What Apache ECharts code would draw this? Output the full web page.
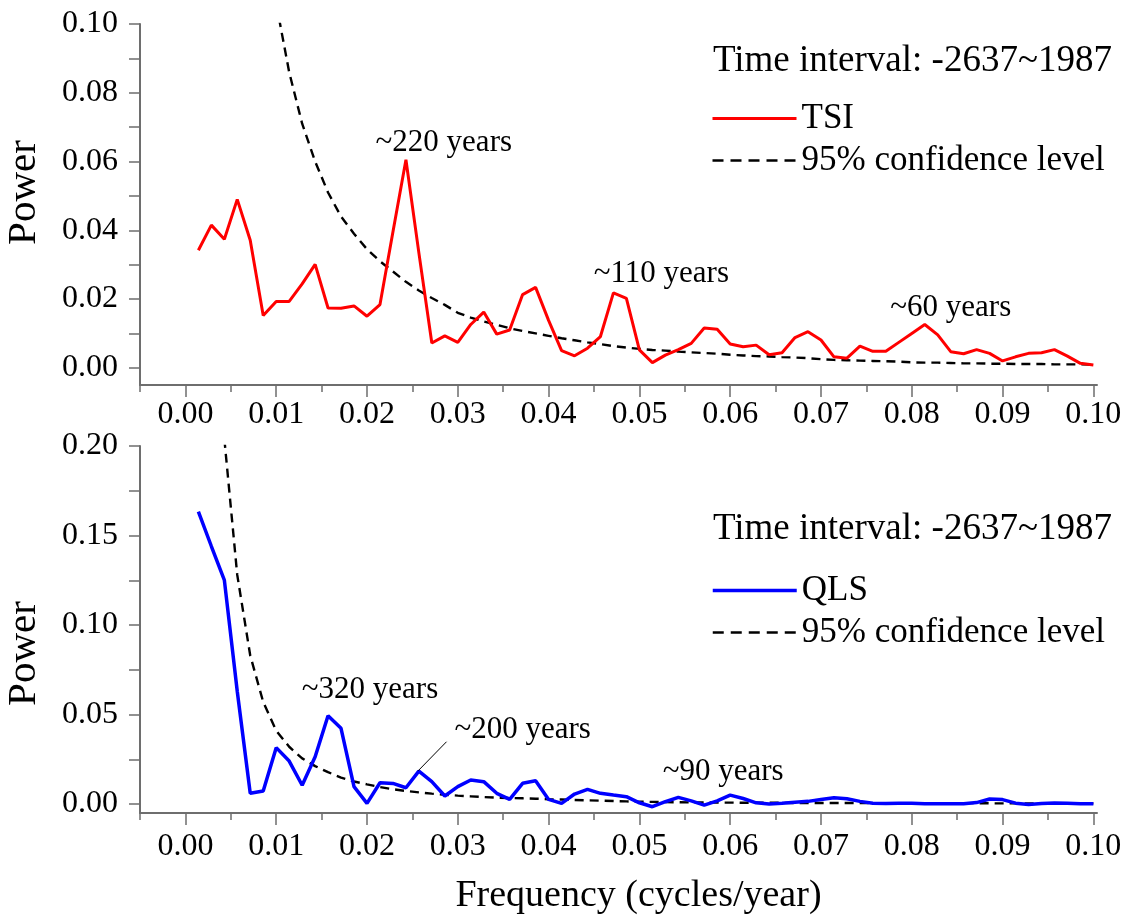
<!DOCTYPE html>
<html>
<head>
<meta charset="utf-8">
<script src="https://cdn.jsdelivr.net/npm/echarts@6/dist/echarts.min.js"></script>
<style>
html,body{margin:0;padding:0;background:#fff;}
#chart{width:1125px;height:922px;}
</style>
</head>
<body>
<div id="chart"></div>
<script>
// ---- data ----
const freq = [0.00143,0.00286,0.00429,0.00571,0.00714,0.00857,0.01000,0.01143,0.01286,0.01429,
0.01571,0.01714,0.01857,0.02000,0.02143,0.02286,0.02429,0.02571,0.02714,0.02857,
0.03000,0.03143,0.03286,0.03429,0.03571,0.03714,0.03857,0.04000,0.04143,0.04286,
0.04429,0.04571,0.04714,0.04857,0.05000,0.05143,0.05286,0.05429,0.05571,0.05714,
0.05857,0.06000,0.06143,0.06286,0.06429,0.06571,0.06714,0.06857,0.07000,0.07143,
0.07286,0.07429,0.07571,0.07714,0.07857,0.08000,0.08143,0.08286,0.08429,0.08571,
0.08714,0.08857,0.09000,0.09143,0.09286,0.09429,0.09571,0.09714,0.09857,0.10000];

const tsiPower = [0.0342,0.0415,0.0374,0.0490,0.0371,0.0152,0.0193,0.0193,0.0244,0.0301,
0.0174,0.0173,0.0180,0.0150,0.0184,0.0396,0.0605,0.0335,0.0072,0.0093,
0.0074,0.0126,0.0162,0.0098,0.0110,0.0213,0.0234,0.0138,0.0050,0.0035,
0.0057,0.0091,0.0218,0.0202,0.0052,0.0015,0.0037,0.0053,0.0071,0.0116,
0.0112,0.0069,0.0061,0.0066,0.0038,0.0044,0.0088,0.0105,0.0081,0.0032,
0.0028,0.0063,0.0048,0.0048,0.0074,0.0100,0.0126,0.0096,0.0047,0.0041,
0.0053,0.0042,0.0020,0.0032,0.0042,0.0044,0.0053,0.0034,0.0013,0.0008];

const tsiConf = [null,null,null,null,null,null,0.106,0.086,0.071,0.060,
0.051,0.044,0.039,0.0345,0.031,0.028,0.0250,0.0225,0.0203,0.0183,
0.0160,0.0146,0.0135,0.0125,0.0115,0.0107,0.0100,0.0093,0.0086,0.0080,
0.0074,0.0069,0.0063,0.0059,0.0055,0.0052,0.0050,0.0047,0.0045,0.0043,
0.0041,0.0038,0.0036,0.0034,0.0033,0.0031,0.0030,0.0028,0.0025,0.0023,
0.0022,0.0021,0.0020,0.0019,0.0018,0.0016,0.0015,0.0015,0.0014,0.0013,
0.0013,0.0012,0.0012,0.0011,0.0011,0.0011,0.0010,0.0010,0.0010,0.0009];

const qlsPower = [0.1633,0.1440,0.1251,0.0630,0.0060,0.0073,0.0315,0.0240,0.0105,0.0264,
0.0493,0.0423,0.0097,0.0004,0.0119,0.0115,0.0091,0.0184,0.0125,0.0045,
0.0097,0.0134,0.0125,0.0060,0.0026,0.0116,0.0130,0.0026,0.0004,0.0056,
0.0082,0.0060,0.0050,0.0041,0.0007,-0.0015,0.0013,0.0037,0.0018,-0.0006,
0.0018,0.0050,0.0031,0.0007,0.0000,0.0004,0.0010,0.0015,0.0025,0.0035,
0.0030,0.0015,0.0005,0.0003,0.0005,0.0005,0.0002,0.0002,0.0002,0.0002,
0.0008,0.0028,0.0025,0.0005,-0.0002,0.0003,0.0006,0.0004,0.0002,0.0002];

const qlsConf = [null,null,0.204,0.128,0.083,0.057,0.041,0.032,0.0255,0.0212,
0.0178,0.0148,0.0126,0.0110,0.0095,0.0083,0.0073,0.0065,0.0058,0.0052,
0.0047,0.0043,0.0039,0.0036,0.0034,0.0032,0.0030,0.0027,0.0025,0.0023,
0.0021,0.0019,0.0017,0.0015,0.0013,0.0012,0.0011,0.0010,0.0009,0.0009,
0.0008,0.0008,0.0007,0.0007,0.0007,0.0007,0.0006,0.0006,0.0006,0.0006,
0.0006,0.0005,0.0005,0.0005,0.0005,0.0005,0.0005,0.0005,0.0005,0.0005,
0.0005,0.0004,0.0004,0.0004,0.0004,0.0004,0.0004,0.0004,0.0004,0.0004];

const xMajorTicks = [0,0.01,0.02,0.03,0.04,0.05,0.06,0.07,0.08,0.09,0.10];
const xMinorTicks = [-0.005,0.005,0.015,0.025,0.035,0.045,0.055,0.065,0.075,0.085,0.095];
const yTopMajorTicks = [0,0.02,0.04,0.06,0.08,0.10];
const yTopMinorTicks = [0.01,0.03,0.05,0.07,0.09];
const yBotMajorTicks = [0,0.05,0.10,0.15,0.20];
const yBotMinorTicks = [0.025,0.075,0.125,0.175];

const topTitle = 'Time interval: -2637~1987';
const botTitle = 'Time interval: -2637~1987';
const xName = 'Frequency (cycles/year)';
const yName = 'Power';
const confName = '95% confidence level';

// annotations: [panel, x, y, text]
const annotations = [
  [0, 0.02846, 0.0653, '~220 years'],
  [0, 0.05242, 0.0274, '~110 years'],
  [0, 0.08429, 0.0175, '~60 years'],
  [1, 0.02033, 0.0637, '~320 years'],
  [1, 0.03714, 0.0413, '~200 years'],
  [1, 0.05923, 0.0179, '~90 years']
];
const leader = [[0.02876, 0.0348], [0.02564, 0.0186]];

// ---- chart ----
const FONT = "'Liberation Serif','Times New Roman',serif";
const AX = '#6e6e6e';
function pairs(vals){ const out=[]; vals.forEach((v,i)=>{ if(v!==null) out.push([freq[i], v]); }); return out; }
const fmt2 = v => Number(v).toFixed(2);

function xAxes(g, withName, margin){
  const main = {
    gridIndex:g, type:'value', min:-0.005, max:0.1004, position:'bottom',
    axisLine:{show:true, onZero:false, lineStyle:{color:AX, width:2}},
    axisTick:{show:true, customValues:xMajorTicks, length:12, lineStyle:{color:AX, width:1.5}},
    axisLabel:{customValues:xMajorTicks, formatter:fmt2, fontSize:32, fontFamily:FONT, color:'#000', margin:margin},
    splitLine:{show:false}
  };
  if(withName){
    main.name = xName; main.nameLocation='middle'; main.nameGap=64;
    main.nameTextStyle = {fontSize:38, fontFamily:FONT, color:'#000', padding:[0,0,0,40]};
  }
  const minor = {
    gridIndex:g, type:'value', min:-0.005, max:0.1004, position:'bottom',
    axisLine:{show:false, onZero:false},
    axisTick:{show:true, customValues:xMinorTicks, length:7, lineStyle:{color:AX, width:1.5}},
    axisLabel:{show:false}, splitLine:{show:false}
  };
  return [main, minor];
}
function yAxes(g, min, max, major, minor, namePad){
  return [{
    gridIndex:g, type:'value', min:min, max:max, position:'left',
    name:yName, nameLocation:'middle', nameGap:95,
    nameTextStyle:{fontSize:41, fontFamily:FONT, color:'#000', padding:namePad},
    axisLine:{show:true, onZero:false, lineStyle:{color:AX, width:2}},
    axisTick:{show:true, customValues:major, length:11, lineStyle:{color:AX, width:1.5}},
    axisLabel:{customValues:major, formatter:fmt2, fontSize:32, fontFamily:FONT, color:'#000', margin:22},
    splitLine:{show:false}
  },{
    gridIndex:g, type:'value', min:min, max:max, position:'left',
    axisLine:{show:false, onZero:false},
    axisTick:{show:true, customValues:minor, length:11, lineStyle:{color:AX, width:1.5}},
    axisLabel:{show:false}, splitLine:{show:false}
  }];
}

const dashStyle = {color:'#000', width:2.4, type:[9,6]};
const legendBase = {orient:'vertical', itemWidth:84, itemHeight:14, itemGap:7,
  itemStyle:{opacity:0}, textStyle:{fontSize:35, fontFamily:FONT, color:'#000'}};
const confLegendItem = {name:confName, lineStyle:{width:2.4, type:[11,7]}};

const option = {
  backgroundColor:'#fff',
  animation:false,
  title:[
    {text:topTitle, left:708, top:38, textStyle:{fontSize:37, fontFamily:FONT, color:'#000', fontWeight:'normal'}},
    {text:botTitle, left:708, top:506, textStyle:{fontSize:37, fontFamily:FONT, color:'#000', fontWeight:'normal'}}
  ],
  legend:[
    Object.assign({left:706, top:96, data:[{name:'TSI', lineStyle:{width:3}}, confLegendItem]}, legendBase),
    Object.assign({left:706, top:568, data:[{name:'QLS', lineStyle:{width:3.5}}, confLegendItem]}, legendBase)
  ],
  grid:[
    {left:140, top:24, width:957, height:361, containLabel:false, outerBoundsMode:'none'},
    {left:140, top:446, width:957, height:367, containLabel:false, outerBoundsMode:'none'}
  ],
  xAxis:[...xAxes(0,false,14), ...xAxes(1,true,18)],
  yAxis:[...yAxes(0,-0.005,0.10,yTopMajorTicks,yTopMinorTicks,[0,0,0,24]),
         ...yAxes(1,-0.005,0.20,yBotMajorTicks,yBotMinorTicks,[0,48,0,0])],
  series:[
    {name:confName, type:'line', xAxisIndex:0, yAxisIndex:0, data:pairs(tsiConf), symbol:'none', lineStyle:dashStyle, itemStyle:{color:'#000'}, z:2},
    {name:'TSI', type:'line', xAxisIndex:0, yAxisIndex:0, data:pairs(tsiPower), symbol:'none', lineStyle:{color:'#ff0000', width:3}, itemStyle:{color:'#ff0000'}, z:3},
    {name:confName, type:'line', xAxisIndex:2, yAxisIndex:2, data:pairs(qlsConf), symbol:'none', lineStyle:dashStyle, itemStyle:{color:'#000'}, z:2},
    {name:'QLS', type:'line', xAxisIndex:2, yAxisIndex:2, data:pairs(qlsPower), symbol:'none', lineStyle:{color:'#0000ff', width:3.5}, itemStyle:{color:'#0000ff'}, z:3,
     markLine:{silent:true, symbol:'none', label:{show:false}, lineStyle:{color:'#000', width:1, type:'solid'},
       data:[[{coord:leader[0]},{coord:leader[1]}]]}}
  ]
};

const chart = echarts.init(document.getElementById('chart'), null, {renderer:'canvas'});
chart.setOption(option);

const g = annotations.map(a => {
  const p = chart.convertToPixel({xAxisIndex: a[0]*2, yAxisIndex: a[0]*2}, [a[1], a[2]]);
  return {type:'text', x:p[0], y:p[1], z:10,
    style:{text:a[3], font:"31px "+FONT, fill:'#000', textAlign:'center', textVerticalAlign:'middle'}};
});
chart.setOption({graphic:g});
</script>
</body>
</html>
